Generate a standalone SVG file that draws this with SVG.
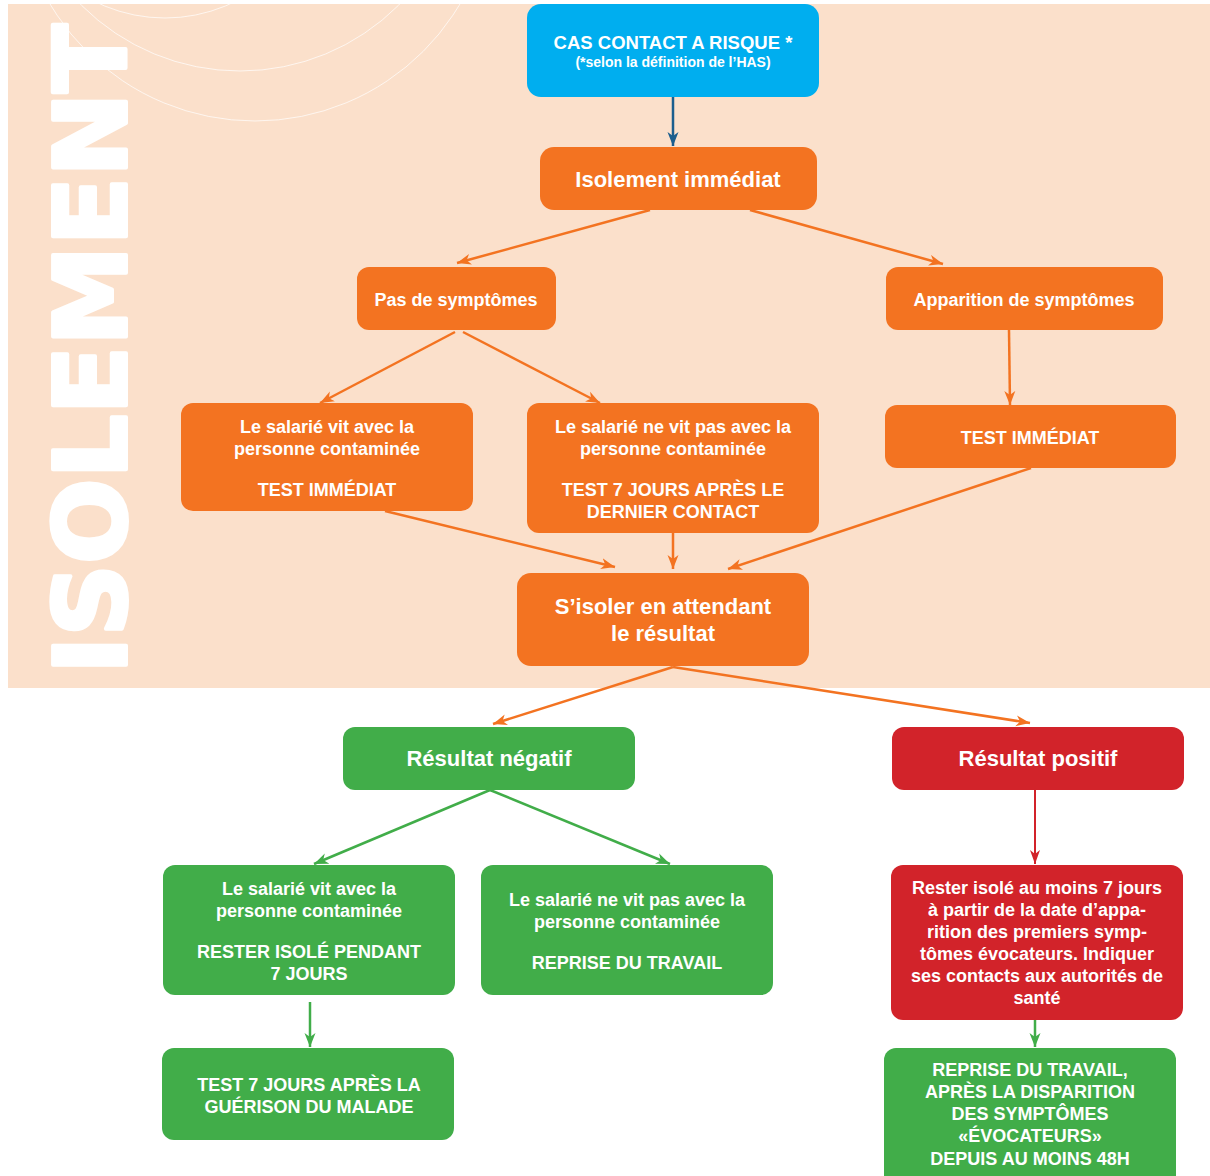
<svg xmlns="http://www.w3.org/2000/svg" width="1210" height="1176" viewBox="0 0 1210 1176">
<defs>
<style>
.t{font-family:"Liberation Sans",Arial,sans-serif;font-weight:bold;fill:#fff;text-anchor:middle}
.s18{font-size:18px}
.s22{font-size:22px}
.o{fill:#F37321}
.g{fill:#41AD49}
.r{fill:#D2232A}
.b{fill:#00AEEF}
.lo{stroke:#F37321;stroke-width:2.5;fill:none;marker-end:url(#ao)}
.lg{stroke:#41AD49;stroke-width:2.5;fill:none;marker-end:url(#ag)}
.lr{stroke:#D2232A;stroke-width:2;fill:none;marker-end:url(#ar)}
.lb{stroke:#1B5E8E;stroke-width:2.5;fill:none;marker-end:url(#ab)}
.circ{fill:none;stroke:#fff;stroke-width:1;opacity:0.7}
</style>
<marker id="ao" markerUnits="userSpaceOnUse" markerWidth="15" markerHeight="12" refX="14" refY="6" orient="auto"><path d="M0,0.5 L14,6 L0,11.5 L4,6 z" fill="#F37321"/></marker>
<marker id="ag" markerUnits="userSpaceOnUse" markerWidth="15" markerHeight="12" refX="14" refY="6" orient="auto"><path d="M0,0.5 L14,6 L0,11.5 L4,6 z" fill="#41AD49"/></marker>
<marker id="ar" markerUnits="userSpaceOnUse" markerWidth="15" markerHeight="12" refX="14" refY="6" orient="auto"><path d="M0,1 L14,6 L0,11 L4,6 z" fill="#D2232A"/></marker>
<marker id="ab" markerUnits="userSpaceOnUse" markerWidth="15" markerHeight="12" refX="14" refY="6" orient="auto"><path d="M0,0.5 L14,6 L0,11.5 L4,6 z" fill="#1B5E8E"/></marker>
<clipPath id="bgclip"><rect x="8" y="4" width="1202" height="684"/></clipPath>
</defs>
<rect width="1210" height="1176" fill="#fff"/>
<g id="background">
<rect x="8" y="4" width="1202" height="684" fill="#FBE0CB"/>
<g clip-path="url(#bgclip)">
<circle class="circ" cx="255" cy="-117" r="238"/>
<circle class="circ" cx="240" cy="-153" r="224"/>
<circle class="circ" cx="165" cy="-140" r="158"/>
</g>
<text transform="translate(126,674) rotate(-90)" font-family="'DejaVu Sans',sans-serif" font-weight="bold" font-size="100" fill="#fff" stroke="#fff" stroke-width="4" stroke-linejoin="round" textLength="650" lengthAdjust="spacingAndGlyphs">ISOLEMENT</text>
</g>
<g id="connectors">
<line class="lb" x1="673" y1="97" x2="673" y2="146"/>
<line class="lo" x1="650" y1="210" x2="457" y2="263"/>
<line class="lo" x1="750" y1="210" x2="943" y2="264"/>
<line class="lo" x1="455" y1="332" x2="320" y2="403"/>
<line class="lo" x1="463" y1="332" x2="600" y2="403"/>
<line class="lo" x1="1009" y1="330" x2="1010" y2="405"/>
<line class="lo" x1="385" y1="511" x2="615" y2="567"/>
<line class="lo" x1="673" y1="533" x2="673" y2="569"/>
<line class="lo" x1="1031" y1="468" x2="728" y2="569"/>
<line class="lo" x1="673" y1="667" x2="493" y2="724"/>
<line class="lo" x1="673" y1="667" x2="1030" y2="723"/>
<line class="lg" x1="490" y1="790" x2="314" y2="864"/>
<line class="lg" x1="490" y1="790" x2="670" y2="864"/>
<line class="lr" x1="1035" y1="790" x2="1035" y2="864"/>
<line class="lg" x1="310" y1="1002" x2="310" y2="1047"/>
<line class="lg" x1="1035" y1="1020" x2="1035" y2="1047"/>
</g>
<g id="n-cas-contact">
<rect class="b" x="527" y="4" width="292" height="93" rx="14"/>
<text class="t" x="673" y="49" font-size="18.5">CAS CONTACT A RISQUE *</text>
<text class="t" x="673" y="67" font-size="14">(*selon la définition de l’HAS)</text>
</g>
<g id="n-isolement">
<rect class="o" x="540" y="147" width="277" height="63" rx="14"/>
<text class="t s22" x="678" y="187">Isolement immédiat</text>
</g>
<g id="n-pas-symptomes">
<rect class="o" x="357" y="267" width="199" height="63" rx="12"/>
<text class="t s18" x="456" y="306">Pas de symptômes</text>
</g>
<g id="n-apparition">
<rect class="o" x="886" y="267" width="277" height="63" rx="12"/>
<text class="t s18" x="1024" y="306">Apparition de symptômes</text>
</g>
<g id="n-vit-avec">
<rect class="o" x="181" y="403" width="292" height="108" rx="12"/>
<text class="t s18" x="327" y="433">Le salarié vit avec la</text>
<text class="t s18" x="327" y="455">personne contaminée</text>
<text class="t s18" x="327" y="496">TEST IMMÉDIAT</text>
</g>
<g id="n-vit-pas">
<rect class="o" x="527" y="403" width="292" height="130" rx="12"/>
<text class="t s18" x="673" y="433">Le salarié ne vit pas avec la</text>
<text class="t s18" x="673" y="455">personne contaminée</text>
<text class="t s18" x="673" y="496">TEST 7 JOURS APRÈS LE</text>
<text class="t s18" x="673" y="518">DERNIER CONTACT</text>
</g>
<g id="n-test-immediat">
<rect class="o" x="885" y="405" width="291" height="63" rx="12"/>
<text class="t s18" x="1030" y="444">TEST IMMÉDIAT</text>
</g>
<g id="n-isoler">
<rect class="o" x="517" y="573" width="292" height="93" rx="14"/>
<text class="t s22" x="663" y="614">S’isoler en attendant</text>
<text class="t s22" x="663" y="641">le résultat</text>
</g>
<g id="n-negatif">
<rect class="g" x="343" y="727" width="292" height="63" rx="12"/>
<text class="t s22" x="489" y="766">Résultat négatif</text>
</g>
<g id="n-positif">
<rect class="r" x="892" y="727" width="292" height="63" rx="12"/>
<text class="t s22" x="1038" y="766">Résultat positif</text>
</g>
<g id="n-neg-vit-avec">
<rect class="g" x="163" y="865" width="292" height="130" rx="12"/>
<text class="t s18" x="309" y="895">Le salarié vit avec la</text>
<text class="t s18" x="309" y="917">personne contaminée</text>
<text class="t s18" x="309" y="958">RESTER ISOLÉ PENDANT</text>
<text class="t s18" x="309" y="980">7 JOURS</text>
</g>
<g id="n-neg-vit-pas">
<rect class="g" x="481" y="865" width="292" height="130" rx="12"/>
<text class="t s18" x="627" y="906">Le salarié ne vit pas avec la</text>
<text class="t s18" x="627" y="928">personne contaminée</text>
<text class="t s18" x="627" y="969">REPRISE DU TRAVAIL</text>
</g>
<g id="n-rester-isole">
<rect class="r" x="891" y="865" width="292" height="155" rx="12"/>
<text class="t s18" x="1037" y="894">Rester isolé au moins 7 jours</text>
<text class="t s18" x="1037" y="916">à partir de la date d’appa-</text>
<text class="t s18" x="1037" y="938">rition des premiers symp-</text>
<text class="t s18" x="1037" y="960">tômes évocateurs. Indiquer</text>
<text class="t s18" x="1037" y="982">ses contacts aux autorités de</text>
<text class="t s18" x="1037" y="1004">santé</text>
</g>
<g id="n-test-guerison">
<rect class="g" x="162" y="1048" width="292" height="92" rx="12"/>
<text class="t s18" x="309" y="1091">TEST 7 JOURS APRÈS LA</text>
<text class="t s18" x="309" y="1113">GUÉRISON DU MALADE</text>
</g>
<g id="n-reprise">
<rect class="g" x="884" y="1048" width="292" height="140" rx="12"/>
<text class="t s18" x="1030" y="1076">REPRISE DU TRAVAIL,</text>
<text class="t s18" x="1030" y="1098">APRÈS LA DISPARITION</text>
<text class="t s18" x="1030" y="1120">DES SYMPTÔMES</text>
<text class="t s18" x="1030" y="1142">«ÉVOCATEURS»</text>
<text class="t s18" x="1030" y="1165">DEPUIS AU MOINS 48H</text>
</g>
</svg>
